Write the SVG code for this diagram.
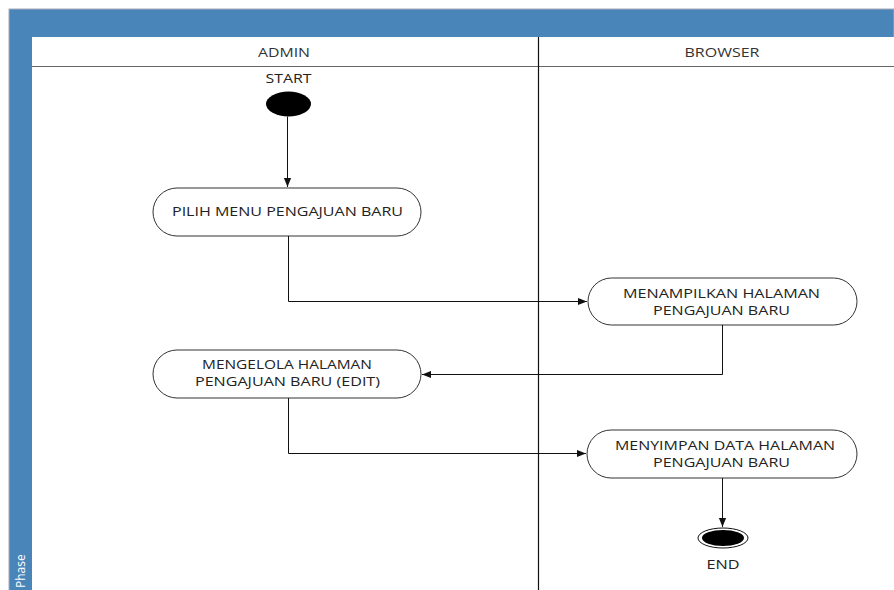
<svg xmlns="http://www.w3.org/2000/svg" width="894" height="590" viewBox="0 0 894 590">
<defs>
<style>
.t{font-family:"Open Sans","Liberation Sans",sans-serif;font-size:12.5px;fill:#222;text-anchor:middle}
.h{font-family:"Open Sans","Liberation Sans",sans-serif;font-size:12.5px;fill:#333;text-anchor:middle}
.n{fill:#fff;stroke:#333;stroke-width:1}
.c{fill:none;stroke:#111;stroke-width:1}
</style>
<marker id="a" viewBox="0 0 10 10" refX="10" refY="5" markerWidth="9" markerHeight="9" markerUnits="userSpaceOnUse" orient="auto">
<path d="M0,1 L10,5 L0,9 Z" fill="#111"/>
</marker>
</defs>
<rect width="894" height="590" fill="#fff"/>
<g id="frame">
<rect x="9" y="9" width="885" height="590" fill="#4a85b9" stroke="#aab" stroke-width="1"/>
<rect x="32" y="37" width="862" height="553" fill="#fff"/>
<line x1="32" y1="66.5" x2="894" y2="66.5" stroke="#666" stroke-width="1"/>
<line x1="538.5" y1="37" x2="538.5" y2="590" stroke="#111" stroke-width="1.2"/>
<text class="h" x="284" y="57" textLength="52" lengthAdjust="spacingAndGlyphs">ADMIN</text>
<text class="h" x="722" y="57" textLength="75" lengthAdjust="spacingAndGlyphs">BROWSER</text>
<text x="25" y="588" transform="rotate(-90 25 588)" font-family="'Open Sans','Liberation Sans',sans-serif" font-size="12" fill="#fff">Phase</text>
</g>
<g id="start">
<text class="t" x="288.5" y="83" style="font-size:12px" textLength="46" lengthAdjust="spacingAndGlyphs">START</text>
<ellipse cx="288.5" cy="104" rx="22.5" ry="12.5" fill="#000"/>
</g>
<g id="n1">
<rect class="n" x="153" y="188" width="268" height="48" rx="24"/>
<text class="t" x="287.5" y="216" textLength="231" lengthAdjust="spacingAndGlyphs">PILIH MENU PENGAJUAN BARU</text>
</g>
<g id="n2">
<rect class="n" x="588" y="278" width="269" height="47" rx="23.5"/>
<text class="t" x="721.5" y="298" textLength="197" lengthAdjust="spacingAndGlyphs">MENAMPILKAN HALAMAN</text>
<text class="t" x="721.5" y="315" textLength="137" lengthAdjust="spacingAndGlyphs">PENGAJUAN BARU</text>
</g>
<g id="n3">
<rect class="n" x="153" y="350" width="268" height="48" rx="24"/>
<text class="t" x="287" y="369" textLength="170" lengthAdjust="spacingAndGlyphs">MENGELOLA HALAMAN</text>
<text class="t" x="287.5" y="386" textLength="185" lengthAdjust="spacingAndGlyphs">PENGAJUAN BARU (EDIT)</text>
</g>
<g id="n4">
<rect class="n" x="587" y="430" width="270" height="48" rx="24"/>
<text class="t" x="725" y="450" textLength="220" lengthAdjust="spacingAndGlyphs">MENYIMPAN DATA HALAMAN</text>
<text class="t" x="721.5" y="467" textLength="137" lengthAdjust="spacingAndGlyphs">PENGAJUAN BARU</text>
</g>
<g id="end">
<ellipse cx="723" cy="538" rx="25" ry="10" fill="#fff" stroke="#111" stroke-width="1"/>
<ellipse cx="723" cy="538" rx="21" ry="8" fill="#000"/>
<text class="t" x="723" y="569" style="font-size:12px" textLength="33" lengthAdjust="spacingAndGlyphs">END</text>
</g>
<g id="connectors">
<path class="c" d="M287.5,116.5 V187" marker-end="url(#a)"/>
<path class="c" d="M288.5,236 V301.5 H587" marker-end="url(#a)"/>
<path class="c" d="M722.5,325 V374.5 H422" marker-end="url(#a)"/>
<path class="c" d="M288.5,398 V453.5 H586" marker-end="url(#a)"/>
<path class="c" d="M722.5,478 V527" marker-end="url(#a)"/>
</g>
</svg>
